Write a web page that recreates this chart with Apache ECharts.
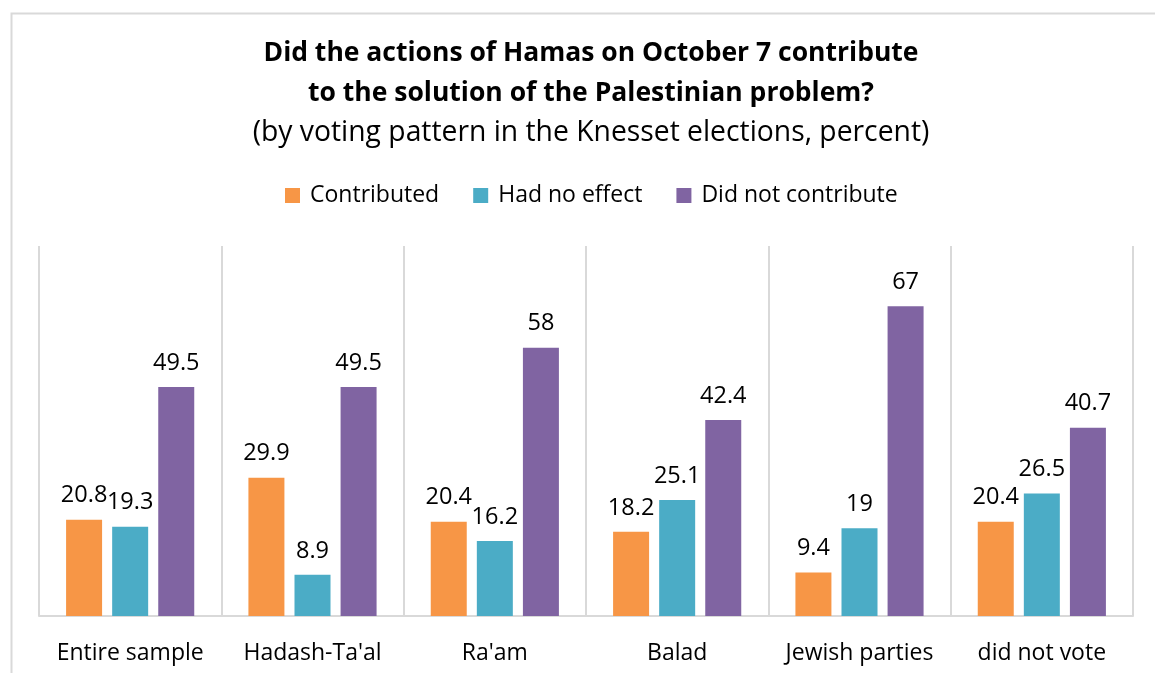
<!DOCTYPE html>
<html>
<head>
<meta charset="utf-8">
<script src="https://cdn.jsdelivr.net/npm/echarts@6/dist/echarts.min.js"></script>
<style>
    html, body { margin: 0; padding: 0; background: #fff; }
    #main { width: 1155px; height: 673px; }
</style>
</head>
<body>
<div id="main"></div>
<script>
var categories = ['Entire sample', 'Hadash-Ta\'al', 'Ra\'am', 'Balad', 'Jewish parties', 'did not vote'];
var seriesNames = ['Contributed', 'Had no effect', 'Did not contribute'];
var contributed = [20.8, 29.9, 20.4, 18.2, 9.4, 20.4];
var noEffect = [19.3, 8.9, 16.2, 25.1, 19, 26.5];
var notContribute = [49.5, 49.5, 58, 42.4, 67, 40.7];

var font = 'Open Sans';
var colors = ['#F79646', '#4BACC6', '#8064A2'];

var chart = echarts.init(document.getElementById('main'));

function barSeries(name, data, color) {
    return {
        name: name,
        type: 'bar',
        data: data,
        barWidth: 36,
        barGap: '28%',
        itemStyle: { color: color },
        label: {
            show: true,
            position: 'top',
            distance: 12,
            color: '#000',
            fontFamily: font,
            fontSize: 23.5
        }
    };
}

var option = {
    animation: false,
    color: colors,
    graphic: [{
        type: 'rect',
        left: 9,
        top: 11,
        shape: { width: 1300, height: 800 },
        style: { fill: 'none', stroke: '#d9d9d9', lineWidth: 2 },
        silent: true
    }],
    title: {
        text: 'Did the actions of Hamas on October 7 contribute\nto the solution of the Palestinian problem?',
        subtext: '(by voting pattern in the Knesset elections, percent)',
        left: 586,
        textAlign: 'center',
        top: 28,
        itemGap: 2,
        textStyle: {
            fontFamily: font,
            fontSize: 26.5,
            fontWeight: 'bold',
            color: '#000',
            lineHeight: 40
        },
        subtextStyle: {
            fontFamily: font,
            fontSize: 28.3,
            color: '#000',
            lineHeight: 36
        }
    },
    legend: {
        data: seriesNames,
        top: 179,
        left: 280,
        itemWidth: 15,
        itemHeight: 15,
        itemGap: 34,
        icon: 'rect',
        textStyle: { fontFamily: font, fontSize: 23, color: '#000', padding: [0, 0, 0, 5] }
    },
    grid: {
        left: 39,
        right: 22,
        top: 246,
        bottom: 57
    },
    xAxis: {
        type: 'category',
        data: categories,
        axisLine: { lineStyle: { color: '#d9d9d9', width: 2 } },
        axisTick: { show: false, interval: 0 },
        splitLine: { show: true, interval: 0, lineStyle: { color: '#d9d9d9', width: 2 } },
        axisLabel: {
            interval: 0,
            margin: 26,
            color: '#000',
            fontFamily: font,
            fontSize: 23
        }
    },
    yAxis: {
        type: 'value',
        min: 0,
        max: 80,
        interval: 10,
        show: false
    },
    series: [
        barSeries(seriesNames[0], contributed, colors[0]),
        barSeries(seriesNames[1], noEffect, colors[1]),
        barSeries(seriesNames[2], notContribute, colors[2])
    ]
};

chart.setOption(option);
</script>
</body>
</html>
